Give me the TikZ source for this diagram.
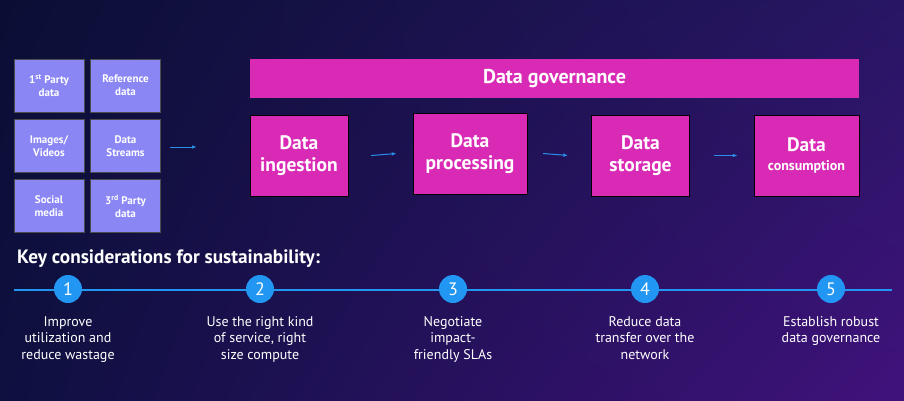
\documentclass[tikz,border=0pt]{standalone}
\usepackage{fontspec}
\setmainfont{PT Sans}
\usepackage{tikz}
\usetikzlibrary{arrows.meta, shadings}

\definecolor{srcfill}{HTML}{8A87F5}
\definecolor{stagefill}{HTML}{D92AB5}
\definecolor{flowblue}{HTML}{2A8FEA}
\definecolor{markblue}{HTML}{2196F3}
\definecolor{bgtl}{HTML}{0A0E34}
\definecolor{bgbl}{HTML}{0E1040}
\definecolor{bgtr}{HTML}{281664}
\definecolor{bgbr}{HTML}{40127C}

\begin{document}
\begin{tikzpicture}[x=1pt, y=-1pt,
                every node/.style={text=white, align=center, inner sep=0pt}, % white text everywhere
                source/.style={rectangle, draw=black!70, fill=srcfill, minimum width=70pt, minimum height=53pt, font=\fontsize{11}{13}\selectfont\bfseries}, % input boxes
                stage/.style={rectangle, draw=black, fill=stagefill, minimum width=98pt, minimum height=81pt, font=\fontsize{19.5}{22}\selectfont\bfseries}, % pipeline boxes
                flow/.style={-{Latex[length=5pt, width=3.5pt]}, draw=flowblue, line width=1pt}, % small arrows
                marker/.style={circle, fill=markblue, minimum size=28pt, font=\fontsize{18}{18}\selectfont}, % numbered dots
                point/.style={font=\fontsize{14}{16.5}\selectfont} % text under the dots
                ]
                % background
                \shade[upper left=bgtl, lower left=bgbl, upper right=bgtr, lower right=bgbr]
                    (0,0) rectangle (904,400);

                % data sources
                \node[source] (party1) at (49,85.5) {1\textsuperscript{st} Party\\data};
                \node[source] (reference) at (125.5,85.5) {Reference\\data};
                \node[source] (images) at (49,146) {Images/\\Videos};
                \node[source] (streams) at (125.5,146) {Data\\Streams};
                \node[source] (social) at (49,206) {Social\\media};
                \node[source] (party3) at (125.5,206) {3\textsuperscript{rd} Party\\data};
                \coordinate (srcout) at (170,147);
                \coordinate (srcin) at (197,147);
                \draw[flow] (srcout) -- (srcin);

                % pipeline
                \node[rectangle, fill=stagefill, minimum width=609pt, minimum height=39pt, font=\fontsize{20}{20}\selectfont\bfseries]
                    (governance) at (554.5,78.5) {Data governance};
                \node[stage] (ingestion) at (299,155.5) {Data\\ingestion};
                \node[stage, minimum width=114pt] (processing) at (470,153.5) {Data\\processing};
                \node[stage] (storage) at (640.5,155.5) {Data\\storage};
                \node[stage, minimum width=105pt] (consumption) at (806.5,155.5) {Data\\[-3pt]{\fontsize{14}{16}\selectfont consumption}};
                \draw[flow] ([xshift=23pt]ingestion.east) -- ([xshift=-16pt]processing.west);
                \draw[flow] ([xshift=16pt]processing.east) -- ([xshift=-23pt]storage.west);
                \draw[flow] ([xshift=24pt]storage.east) -- ([xshift=-16pt]consumption.west);

                % sustainability line
                \node[anchor=west, font=\fontsize{19.3}{19.3}\selectfont\bfseries] (keytitle) at (17,259) {Key considerations for sustainability:};
                \coordinate (linestart) at (14,290);
                \coordinate (lineend) at (892,290);
                \draw[markblue, line width=2.5pt] (linestart) -- (lineend);
                \foreach \n/\x/\txt in {1/68/{Improve\\utilization and\\reduce wastage},
                                        2/260/{Use the right kind\\of service, right\\size compute},
                                        3/453/{Negotiate\\impact-\\friendly SLAs},
                                        4/645/{Reduce data\\transfer over the\\network},
                                        5/831/{Establish robust\\data governance}}{
                    \node[marker] (dot\n) at (\x,289) {\n};
                    \node[point, anchor=north] (note\n) at (\x,316) {\txt};
                }
            \end{tikzpicture}
\end{document}
